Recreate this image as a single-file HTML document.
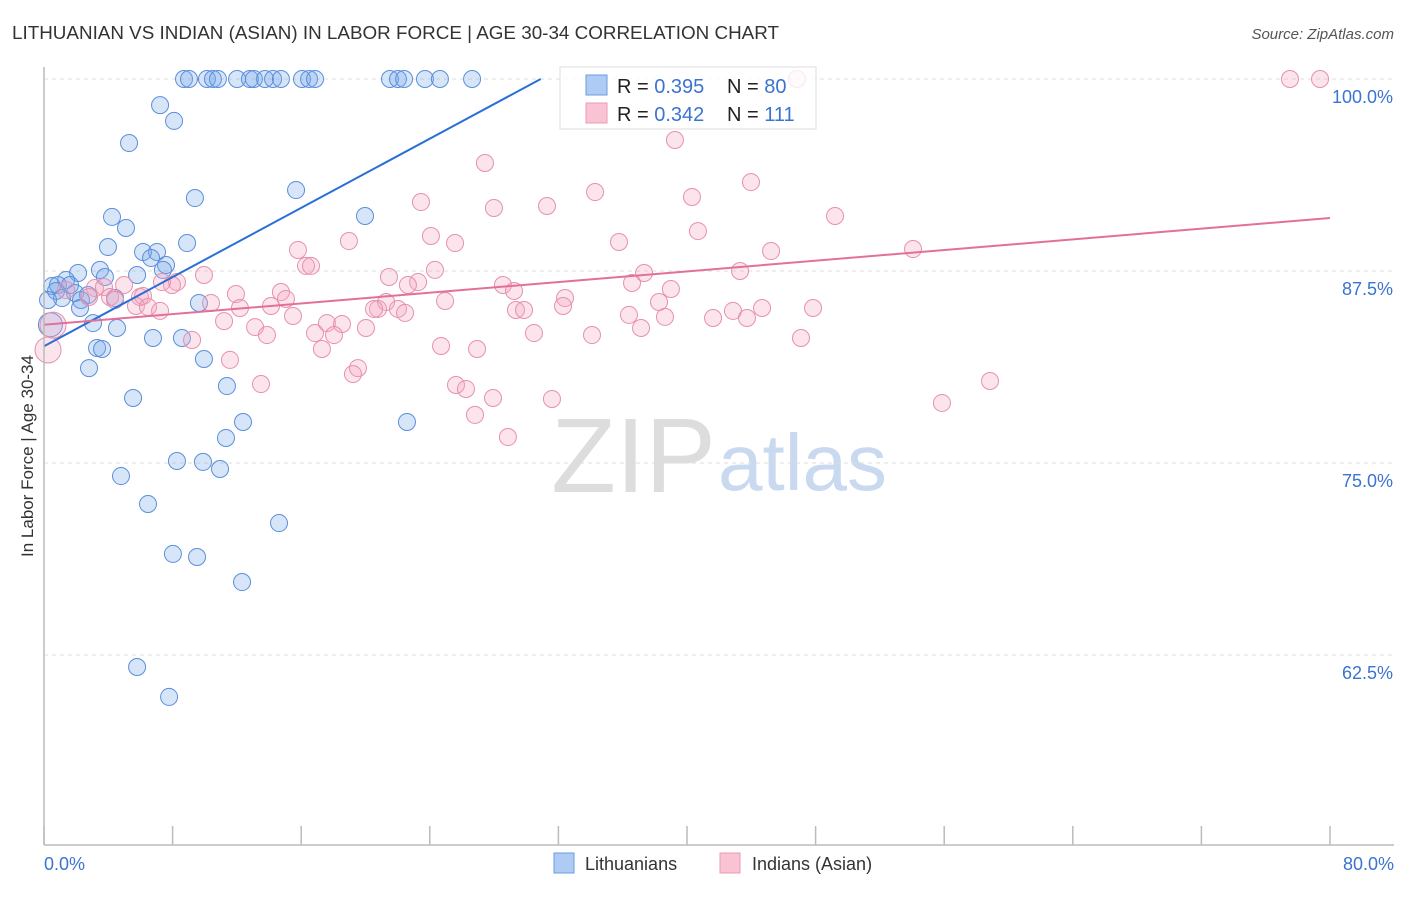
<!DOCTYPE html>
<html><head><meta charset="utf-8"><style>
body{margin:0;background:#fff;font-family:"Liberation Sans",sans-serif}
svg text{font-family:"Liberation Sans",sans-serif}
</style></head><body>
<svg id="chart" width="1406" height="892" xmlns="http://www.w3.org/2000/svg">
<text x="12" y="39" font-size="18" fill="#333" textLength="767" lengthAdjust="spacingAndGlyphs">LITHUANIAN VS INDIAN (ASIAN) IN LABOR FORCE | AGE 30-34 CORRELATION CHART</text>
<text x="1394" y="39" font-size="15" fill="#555" font-style="italic" text-anchor="end">Source: ZipAtlas.com</text>
<text x="716" y="492" font-size="106" text-anchor="end" fill="#ddd" font-family="Liberation Serif">ZIP</text>
<text x="718" y="490" font-size="80" fill="#c9d9f0">atlas</text>
<g id="grid"></g><g id="pts"></g><g id="lines"></g>
<line x1="44" y1="67" x2="44" y2="845" stroke="#bbb" stroke-width="1.5"/>
<line x1="44" y1="845" x2="1394" y2="845" stroke="#bbb" stroke-width="1.5"/>
<text transform="translate(33,456) rotate(-90)" font-size="17" fill="#333" text-anchor="middle">In Labor Force | Age 30-34</text>
<text x="44" y="870" font-size="18" fill="#3b73d1">0.0%</text>
<text x="1394" y="870" font-size="18" fill="#3b73d1" text-anchor="end">80.0%</text>
<g>
<rect x="560" y="67" width="256" height="62" fill="#fff" fill-opacity="0.8" stroke="#ddd"/>
<rect x="586" y="75" width="21" height="20" fill="#aecbf3" stroke="#6a9be0"/>
<rect x="586" y="103" width="21" height="20" fill="#f9c3d3" stroke="#ec9ab6"/>
<text x="617" y="93" font-size="20" fill="#222">R = <tspan fill="#3b73d1">0.395</tspan><tspan x="727">N = </tspan><tspan fill="#3b73d1">80</tspan></text>
<text x="617" y="121" font-size="20" fill="#222">R = <tspan fill="#3b73d1">0.342</tspan><tspan x="727">N = </tspan><tspan fill="#3b73d1">111</tspan></text>
</g>
<g>
<rect x="554" y="853" width="20" height="20" fill="#aecbf3" stroke="#6a9be0"/>
<text x="585" y="870" font-size="18" fill="#333">Lithuanians</text>
<rect x="720" y="853" width="20" height="20" fill="#f9c3d3" stroke="#ec9ab6"/>
<text x="752" y="870" font-size="18" fill="#333">Indians (Asian)</text>
</g>
</svg>
<script>
const yTicks=[100,87.5,75,62.5];
const xTickVals=[0,8,16,24,32,40,48,56,64,72,80];
const blueX=[8.71,9.02,10.14,10.51,10.82,12.01,12.81,13.06,13.75,14.25,14.74,16.05,16.49,16.86,21.52,22.02,22.40,23.70,24.63,26.63,7.22,8.09,5.29,9.39,15.68,19.97,4.23,5.10,3.98,8.90,6.16,7.03,6.66,7.59,7.40,3.48,2.12,1.37,3.79,5.79,0.50,0.87,1.62,0.75,1.93,2.74,1.12,2.30,0.25,4.42,9.64,2.24,3.05,4.54,6.78,8.58,3.30,3.61,2.80,9.95,11.38,5.54,12.38,22.58,11.32,8.27,9.89,10.95,4.79,6.47,14.62,8.02,9.52,12.32,5.79,7.78,0.4];
const blueY=[100,100,100,100,100,100,100,100,100,100,100,100,100,100,100,100,100,100,100,100,98.3,97.27,95.83,92.25,92.77,91.08,91.02,90.30,89.06,89.32,88.74,88.74,88.35,87.89,87.57,87.57,87.37,86.91,87.11,87.24,86.52,86.59,86.59,86.20,86.07,85.94,85.74,85.61,85.61,85.74,85.42,85.09,84.11,83.79,83.14,83.14,82.49,82.42,81.18,81.77,80.01,79.23,77.67,77.67,76.63,75.13,75.07,74.61,74.15,72.33,71.09,69.08,68.88,67.25,61.72,59.77,84.0];
const pinkX=[46.84,77.51,79.38,39.25,27.43,43.98,34.28,40.31,23.45,27.99,31.29,49.21,40.68,24.07,35.77,18.97,25.57,15.80,54.06,45.23,16.30,16.61,9.95,24.32,43.30,21.46,37.33,23.27,22.64,39.00,28.55,29.24,36.58,8.27,7.96,7.34,4.98,3.17,3.73,1.37,11.94,14.74,2.80,4.11,5.97,4.42,6.16,15.05,21.28,32.41,24.95,38.26,10.39,14.12,12.19,44.67,5.72,6.47,7.22,15.49,29.36,29.86,20.78,20.53,22.02,22.46,42.86,32.29,36.39,41.62,43.73,47.84,38.63,11.20,13.13,17.60,18.54,20.03,30.48,34.09,37.14,16.86,18.04,9.21,13.87,47.09,17.29,24.70,26.94,19.53,19.22,11.57,13.50,25.63,26.25,27.93,31.60,55.86,58.85,26.81,28.86,0.25,0.56];
const pinkY=[100,100,100,96.03,94.53,93.29,92.64,92.32,91.99,91.60,91.73,91.08,90.10,89.78,89.39,89.45,89.32,88.87,88.93,88.80,87.83,87.83,87.24,87.57,87.50,87.11,87.37,86.78,86.59,86.33,86.59,86.20,86.72,86.78,86.59,86.78,86.59,86.39,86.46,86.26,86.00,86.13,85.81,85.81,85.81,85.61,85.87,85.68,85.48,85.74,85.55,85.48,85.42,85.22,85.09,85.09,85.22,85.16,84.90,84.57,84.96,84.96,85.03,85.03,85.03,84.77,84.90,85.22,84.64,84.44,84.44,85.09,84.51,84.24,83.85,84.11,84.05,83.79,83.46,83.33,83.79,83.46,83.33,83.01,83.33,83.14,82.42,82.62,82.42,81.18,80.79,81.71,80.14,80.08,79.82,79.23,79.17,78.91,80.34,78.13,76.69,82.36,83.98];
const blueTrend=[82.6,100];const blueTrendX=[0,30.9];
const pinkTrend=[84.0,90.95];const pinkTrendX=[0,80];
const NS="http://www.w3.org/2000/svg";
const xs=v=>44+v*(1286/80);
const ys=v=>79+(100-v)*15.36;
function mk(t,a,p){const e=document.createElementNS(NS,t);for(const k in a)e.setAttribute(k,a[k]);p.appendChild(e);return e;}
const grid=document.getElementById('grid');
yTicks.forEach(t=>{
 const l=mk('line',{x1:44,x2:1394,y1:ys(t),y2:ys(t),stroke:'#ddd','stroke-dasharray':'4,4'},grid);
 
 
 const tx=mk('text',{x:1393,y:ys(t)+24,'font-size':18,fill:'#3b73d1','text-anchor':'end'},grid);
 tx.textContent=t.toFixed(1)+'%';
 
 
});
xTickVals.forEach(t=>{
 const l=mk('line',{x1:xs(t),x2:xs(t),y1:826,y2:845,stroke:'#bbb','stroke-width':1.5},grid);
 
 
});
const pts=document.getElementById('pts');
blueX.forEach((x,i)=>{
 const c=mk('circle',{cx:xs(x),cy:ys(blueY[i]),r:i==blueX.length-1?12:8.5,fill:'#7aa8ea','fill-opacity':0.3,stroke:'#5b8fd9','stroke-width':1},pts);
 
 
});
pinkX.forEach((x,i)=>{
 const c=mk('circle',{cx:xs(x),cy:ys(pinkY[i]),r:i>=pinkX.length-2?13:8.5,fill:'#f4a6c0','fill-opacity':0.3,stroke:'#e690ae','stroke-width':1},pts);
 
 
});
const lines=document.getElementById('lines');
const bl=mk('line',{x1:xs(blueTrendX[0]),y1:ys(blueTrend[0]),x2:xs(blueTrendX[1]),y2:ys(blueTrend[1]),stroke:'#2a6fd6','stroke-width':2},lines);


const pl=mk('line',{x1:xs(pinkTrendX[0]),y1:ys(pinkTrend[0]),x2:xs(pinkTrendX[1]),y2:ys(pinkTrend[1]),stroke:'#e3709a','stroke-width':2},lines);


</script>
</body></html>
